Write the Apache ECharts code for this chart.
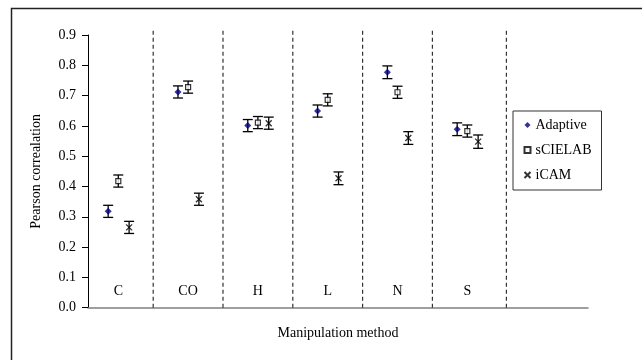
<!DOCTYPE html>
<html>
<head>
<meta charset="utf-8">
<script src="https://cdn.jsdelivr.net/npm/echarts@6/dist/echarts.min.js"></script>
<style>html,body{margin:0;padding:0;background:#fff;}#main{width:642px;height:360px;}</style>
</head>
<body>
<div id="main"></div>
<script>
// ---- data ----
const categories = ['C', 'CO', 'H', 'L', 'N', 'S'];
const methods = ['Adaptive', 'sCIELAB', 'iCAM'];
const adaptive = [0.318, 0.712, 0.601, 0.649, 0.777, 0.589];
const sCIELAB = [0.418, 0.728, 0.611, 0.686, 0.711, 0.583];
const iCAM = [0.265, 0.358, 0.609, 0.427, 0.560, 0.548];
const adaptiveErr = [0.02, 0.02, 0.02, 0.02, 0.021, 0.021];
const sCIELABErr = [0.02, 0.02, 0.02, 0.02, 0.02, 0.02];
const iCAMErr = [0.02, 0.02, 0.02, 0.021, 0.021, 0.022];
const dividers = [0.5, 1.5, 2.5, 3.5, 4.5, 5.56];
const yTicks = ['0.0','0.1','0.2','0.3','0.4','0.5','0.6','0.7','0.8','0.9'];

// ---- layout / style ----
const offsets = [-0.145, 0, 0.155];
const FONT = 'Liberation Serif';

function pts(vals, k) { return vals.map((v, i) => [i + offsets[k], v]); }
function errs(vals, e, k) { return vals.map((v, i) => [i + offsets[k], v - e[i], v + e[i]]); }

function errRender(params, api) {
  const x = api.value(0), lo = api.value(1), hi = api.value(2);
  const a = api.coord([x, hi]), b = api.coord([x, lo]);
  const hw = 5;
  const st = { stroke: '#000', lineWidth: 1.3 };
  return { type: 'group', children: [
    { type: 'line', shape: { x1: a[0], y1: a[1], x2: b[0], y2: b[1] }, style: st },
    { type: 'line', shape: { x1: a[0] - hw, y1: a[1], x2: a[0] + hw, y2: a[1] }, style: st },
    { type: 'line', shape: { x1: b[0] - hw, y1: b[1], x2: b[0] + hw, y2: b[1] }, style: st }
  ]};
}

const chart = echarts.init(document.getElementById('main'), null, { renderer: 'canvas' });
const option = {
  animation: false,
  backgroundColor: '#fff',
  textStyle: { fontFamily: FONT },
  graphic: [{
    type: 'rect', silent: true, z: 100,
    shape: { x: 11.5, y: 8.5, width: 700, height: 400 },
    style: { fill: 'none', stroke: '#222', lineWidth: 1.5 }
  }],
  grid: { left: 88, right: 54, top: 35, bottom: 52.3 },
  legend: {
    orient: 'vertical', left: 513, top: 111,
    padding: [7, 10, 8, 9],
    itemGap: 11, itemWidth: 6, itemHeight: 6,
    borderColor: '#333', borderWidth: 1,
    data: methods,
    textStyle: { fontFamily: FONT, fontSize: 14, color: '#000' }
  },
  xAxis: {
    type: 'value', min: -0.434, max: 6.729,
    axisLine: { show: true, onZero: false, lineStyle: { color: '#808080', width: 1.5 } },
    axisTick: { show: false }, axisLabel: { show: false }, splitLine: { show: false },
    name: 'Manipulation method', nameLocation: 'middle', nameGap: 19,
    nameTextStyle: { fontFamily: FONT, fontSize: 14, color: '#000' }
  },
  yAxis: {
    type: 'value', min: 0, max: 0.9, interval: 0.1,
    axisLine: { show: true, onZero: false, lineStyle: { color: '#000', width: 1 } },
    axisTick: { show: true, inside: false, length: 6, lineStyle: { color: '#000' } },
    axisLabel: { margin: 12, fontFamily: FONT, fontSize: 14, color: '#000',
      formatter: (v) => yTicks[Math.round(v * 10)] },
    splitLine: { show: false },
    name: 'Pearson correalation', nameLocation: 'middle', nameGap: 45,
    nameTextStyle: { fontFamily: FONT, fontSize: 14, color: '#000' }
  },
  series: [
    {
      name: 'dividers', type: 'custom', silent: true, z: 1, clip: false,
      data: dividers.map(d => [d]),
      encode: { x: 0 },
      renderItem: (params, api) => {
        const x = api.value(0);
        const a = api.coord([x, 0]), b = api.coord([x, 0.923]);
        return { type: 'line', shape: { x1: a[0], y1: a[1], x2: b[0], y2: b[1] },
          style: { stroke: '#333', lineWidth: 1.2, lineDash: [4, 3] } };
      }
    },
    {
      name: 'catLabels', type: 'custom', silent: true, z: 2,
      data: categories.map((c, i) => [i, 0.053, c]),
      encode: { x: 0, y: 1 },
      renderItem: (params, api) => {
        const p = api.coord([api.value(0), api.value(1)]);
        return { type: 'text', x: p[0], y: p[1],
          style: { text: categories[params.dataIndex], fontFamily: FONT, fontSize: 14, fill: '#000',
            align: 'center', verticalAlign: 'middle' } };
      }
    },
    { name: 'errA', type: 'custom', z: 3, data: errs(adaptive, adaptiveErr, 0), encode: { x: 0, y: [1, 2] }, renderItem: errRender },
    { name: 'errS', type: 'custom', z: 3, data: errs(sCIELAB, sCIELABErr, 1), encode: { x: 0, y: [1, 2] }, renderItem: errRender },
    { name: 'errI', type: 'custom', z: 3, data: errs(iCAM, iCAMErr, 2), encode: { x: 0, y: [1, 2] }, renderItem: errRender },
    {
      name: 'Adaptive', type: 'scatter', z: 5, symbol: 'diamond', symbolSize: 7,
      itemStyle: { color: '#000080' }, data: pts(adaptive, 0)
    },
    {
      name: 'sCIELAB', type: 'scatter', z: 5, symbol: 'rect', symbolSize: 5,
      itemStyle: { color: '#fff', borderColor: '#000', borderWidth: 1.2 }, data: pts(sCIELAB, 1)
    },
    {
      name: 'iCAM', type: 'scatter', z: 5, symbol: 'path://M0,0L10,10M10,0L0,10', symbolSize: 6,
      itemStyle: { color: 'none', borderColor: '#000', borderWidth: 1.3 }, data: pts(iCAM, 2)
    }
  ]
};
chart.setOption(option);
</script>
</body>
</html>
